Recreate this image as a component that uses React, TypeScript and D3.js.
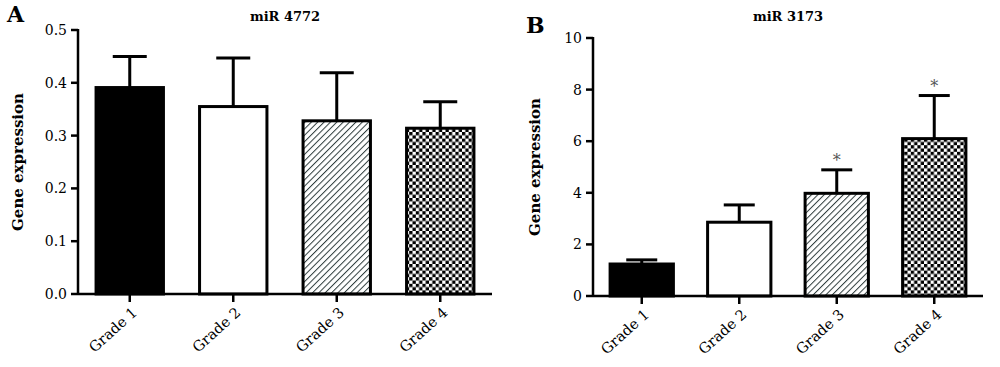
import React from 'react';
import * as d3 from 'd3';

const grades = ['Grade 1', 'Grade 2', 'Grade 3', 'Grade 4'];
const fills = ['solid', 'open', 'hatch', 'checker'];

// panel A: miR 4772
const meanA = [0.391, 0.355, 0.328, 0.314];
const errA = [0.45, 0.447, 0.419, 0.364];
const ticksA = [0, 0.1, 0.2, 0.3, 0.4, 0.5];

// panel B: miR 3173
const meanB = [1.24, 2.86, 3.98, 6.1];
const errB = [1.4, 3.53, 4.89, 7.77];
const ticksB = [0, 2, 4, 6, 8, 10];
const starsB = [false, false, true, true];

const FONT = '"DejaVu Serif", serif';

const fillFor = (f: string) =>
  f === 'solid' ? '#000' : f === 'open' ? '#fff' : f === 'hatch' ? 'url(#hatch)' : 'url(#checker)';

function Panel({ letter, title, mean, err, ticks, fmt, stars, x0, x1, yTop, yBot, letterX, letterY, labelX, capW }: any) {
  const x = d3.scaleBand().domain(grades).range([x0, x1]).paddingInner(0.32).paddingOuter(0.16);
  const y = d3.scaleLinear().domain([ticks[0], ticks[ticks.length - 1]]).range([yBot, yTop]);
  const bw = x.bandwidth();
  return (
    <g>
      <text x={letterX} y={letterY} fontFamily={FONT} fontWeight="bold" fontSize={22}>{letter}</text>
      <text x={(x0 + x1) / 2} y={21} textAnchor="middle" fontFamily={FONT} fontWeight="bold" fontSize={13}>{title}</text>
      <text transform={`translate(${labelX},${(yTop + yBot) / 2}) rotate(-90)`} textAnchor="middle"
        fontFamily={FONT} fontWeight="bold" fontSize={15} dy="0.35em">Gene expression</text>
      {grades.map((g, i) => {
        const cx = x(g)! + bw / 2;
        return (
          <g key={g}>
            <line x1={cx} x2={cx} y1={y(mean[i])} y2={y(err[i])} stroke="#000" strokeWidth={3} />
            <line x1={cx - capW / 2} x2={cx + capW / 2} y1={y(err[i])} y2={y(err[i])} stroke="#000" strokeWidth={3} />
            <rect x={x(g)! + 1.5} width={bw - 3} y={y(mean[i])} height={yBot - y(mean[i])}
              fill={fillFor(fills[i])} stroke="#000" strokeWidth={3} />
            {stars[i] && (
              <text x={cx} y={y(err[i]) - 4} textAnchor="middle" fontFamily={FONT} fontSize={16} fill="#555">*</text>
            )}
            <line x1={cx} x2={cx} y1={yBot} y2={yBot + 8} stroke="#000" strokeWidth={2.5} />
            <text transform={`translate(${cx + 5},${yBot + 16}) rotate(-42)`} textAnchor="end" dy="0.35em"
              fontFamily={FONT} fontSize={14.5}>{g}</text>
          </g>
        );
      })}
      <line x1={x0} x2={x1} y1={yBot} y2={yBot} stroke="#000" strokeWidth={2.5} />
      <line x1={x0} x2={x0} y1={yTop - 1} y2={yBot + 1} stroke="#000" strokeWidth={2.5} />
      {ticks.map((t: number) => (
        <g key={t}>
          <line x1={x0 - 7} x2={x0} y1={y(t)} y2={y(t)} stroke="#000" strokeWidth={2.5} />
          <text x={x0 - 11} y={y(t)} dy="0.35em" textAnchor="end" fontFamily={FONT} fontSize={14}>{fmt(t)}</text>
        </g>
      ))}
    </g>
  );
}

export default function App() {
  return (
    <svg width={1000} height={367} style={{ position: 'absolute', left: 0, top: 0, background: '#fff' }}>
      <defs>
        <pattern id="hatch" width={4.5} height={4.5} patternUnits="userSpaceOnUse" patternTransform="rotate(45)">
          <rect width={4.5} height={4.5} fill="#fff" />
          <line x1={0} y1={0} x2={0} y2={4.5} stroke="#2d3b3b" strokeWidth={2} />
        </pattern>
        <pattern id="checker" width={6.6} height={6.6} patternUnits="userSpaceOnUse">
          <rect width={6.6} height={6.6} fill="#fff" />
          <rect width={3.3} height={3.3} fill="#000" />
          <rect x={3.3} y={3.3} width={3.3} height={3.3} fill="#000" />
        </pattern>
      </defs>
      <Panel letter="A" title="miR 4772" mean={meanA} err={errA} ticks={ticksA} fmt={d3.format('.1f')}
        stars={[false, false, false, false]} x0={78} x1={492} yTop={30} yBot={294}
        letterX={7} letterY={22} labelX={18} capW={34} />
      <Panel letter="B" title="miR 3173" mean={meanB} err={errB} ticks={ticksB} fmt={d3.format('d')}
        stars={starsB} x0={593} x1={983} yTop={38} yBot={296}
        letterX={526} letterY={33} labelX={535} capW={31} />
    </svg>
  );
}
